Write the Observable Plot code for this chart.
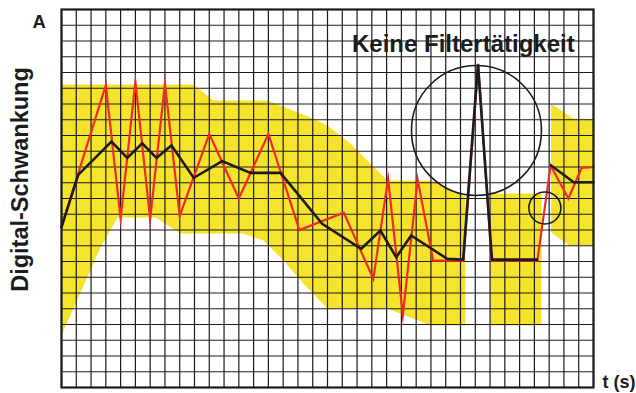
<!DOCTYPE html>
<html>
<head>
<meta charset="utf-8">
<script src="https://cdn.jsdelivr.net/npm/d3@7"></script>
<script src="https://cdn.jsdelivr.net/npm/@observablehq/plot@0.6"></script>
<style>
  html, body { margin: 0; padding: 0; background: #ffffff; }
  svg { display: block; }
</style>
</head>
<body>
<div id="chart"></div>
<script>
// ---- Data (grid units: t across 0..36, value up 0..24) ----
const rawT = [0, 3, 4, 5, 6, 7, 8, 10, 12, 14, 16.1, 19.1, 21.1, 22.1, 23.1, 24.1, 25.15, 27.2, 28.2, 29.1, 32.2, 33.1, 34.3, 35.2, 36];
const rawV = [10.2, 19.2, 10.7, 19.4, 10.7, 19.3, 10.9, 16.1, 12.0, 16.1, 10.0, 11.1, 6.9, 13.25, 4.6, 13.2, 8.05, 8.05, 20.55, 8.05, 8.05, 14.1, 12.0, 13.95, 14.0];

const filtT = [0, 1.13, 3.38, 4.45, 5.46, 6.43, 7.44, 8.95, 10.87, 12.79, 14.82, 17.64, 20.28, 21.58, 22.65, 23.66, 26.1, 27.18, 28.18, 29.13, 32.18, 32.7, 33.13, 34.66, 36];
const filtV = [10.18, 13.5, 15.62, 14.58, 15.51, 14.58, 15.37, 13.31, 14.37, 13.63, 13.63, 10.39, 8.81, 9.97, 8.27, 9.65, 8.17, 8.12, 20.5, 8.12, 8.12, null, 14.1, 13.03, 13.03];

// Tolerance band (yellow), outline of each block
const band1T = [0, 8.93, 10.28, 13.94, 16.85, 18, 19.55, 20.9, 21.92, 22.26, 24.97, 27.33, 27.33, 24.97, 22.06, 18, 16.37, 15.02, 13.67, 12.25, 8.05, 6.36, 3.79, 2.64, 0];
const band1V = [19.24, 19.24, 18.22, 18.22, 17.14, 16.63, 15.49, 14.22, 13.27, 13.14, 13.14, 12.15, 3.94, 3.94, 5.02, 5.02, 6.6, 8.06, 9.33, 9.78, 9.78, 10.79, 10.79, 8.89, 3.3];
const band2T = [29.03, 32.48, 32.48, 29.03];
const band2V = [12.32, 12.32, 3.94, 3.94];
const band3T = [33.13, 34.66, 36, 36, 34.32, 33.13];
const band3V = [18.01, 17.06, 17.06, 9.02, 9.02, 9.86];

// Annotation circles (centres)
const circleT = [28.08, 32.71];
const circleV = [16.32, 11.4];

// Texts
const labelPanel = "A";
const labelY = "Digital-Schwankung";
const labelX = "t (s)";
const labelNote = "Keine Filtertätigkeit";

const gridT = d3.range(0, 37);
const gridV = d3.range(0, 25);

const yellow = "#f6e32b";
const red = "#ee2b2b";
const ink = "#1c1c1c";
const font = "'Liberation Sans', Arial, Helvetica, sans-serif";

const poly = (T, V) => T.map((t, i) => ({t, v: V[i]}));
const series = (T, V) => T.map((t, i) => ({t, v: V[i]}));

const chart = Plot.plot({
  width: 636,
  height: 393,
  marginTop: 9,
  marginRight: 43,
  marginBottom: 6,
  marginLeft: 61,
  x: {domain: [0, 36], axis: null},
  y: {domain: [0, 24], axis: null},
  style: {background: "#ffffff", fontFamily: font, overflow: "visible"},
  marks: [
    Plot.line(poly(band1T, band1V), {x: "t", y: "v", fill: yellow, stroke: "none"}),
    Plot.line(poly(band2T, band2V), {x: "t", y: "v", fill: yellow, stroke: "none"}),
    Plot.line(poly(band3T, band3V), {x: "t", y: "v", fill: yellow, stroke: "none"}),
    Plot.ruleX(gridT, {x: d => d, stroke: ink, strokeWidth: 1.2}),
    Plot.ruleY(gridV, {y: d => d, stroke: ink, strokeWidth: 1.2}),
    Plot.line(series(rawT, rawV), {x: "t", y: "v", stroke: red, strokeWidth: 2.2, strokeLinejoin: "miter", strokeMiterlimit: 10}),
    Plot.line(series(filtT, filtV), {x: "t", y: "v", stroke: ink, strokeWidth: 2.6, strokeLinejoin: "miter", strokeMiterlimit: 4}),
    Plot.dot([0], {x: () => circleT[0], y: () => circleV[0], r: 65, stroke: ink, strokeWidth: 1.6, fill: "none"}),
    Plot.dot([1], {x: () => circleT[1], y: () => circleV[1], r: 16, stroke: ink, strokeWidth: 1.6, fill: "none"}),
    Plot.frame({stroke: ink, strokeWidth: 2.2}),
    Plot.text([labelNote], {text: d => d, frameAnchor: "top-left", dx: 290.5, dy: 42.5, textAnchor: "start", lineAnchor: "bottom", fontSize: 24, fontWeight: "bold", fill: ink}),
    Plot.text([labelPanel], {text: d => d, frameAnchor: "top-left", dx: -22.3, dy: 18.5, textAnchor: "middle", lineAnchor: "bottom", fontSize: 18.5, fontWeight: "bold", fill: ink}),
    Plot.text([labelX], {text: d => d, frameAnchor: "bottom-right", dx: 9, dy: 0, textAnchor: "start", lineAnchor: "bottom", fontSize: 18, fontWeight: "bold", fill: ink}),
    Plot.text([labelY], {text: d => d, frameAnchor: "left", dx: -41, dy: -19, rotate: -90, textAnchor: "middle", lineAnchor: "middle", fontSize: 23.5, fontWeight: "bold", fill: ink})
  ]
});

document.getElementById("chart").appendChild(chart);
</script>
</body>
</html>
